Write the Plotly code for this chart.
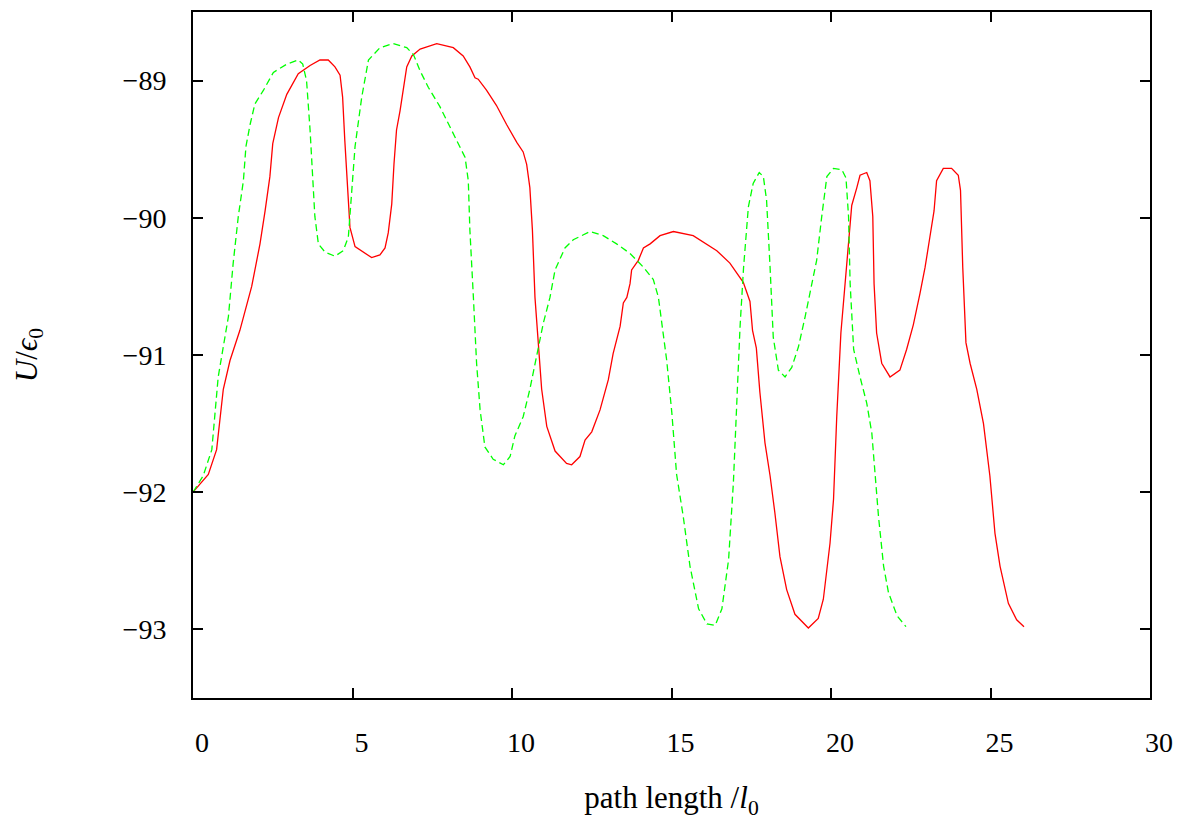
import plotly.graph_objects as go

# red curve (solid)
red_x = [0.00, 0.48, 0.74, 0.95, 1.16, 1.47, 1.84, 2.10, 2.26, 2.41, 2.50, 2.68, 2.94, 3.30, 3.67, 3.98,
         4.24, 4.45, 4.61, 4.69, 4.76, 4.84, 4.92, 5.08, 5.60, 5.86, 6.02, 6.12, 6.23, 6.30, 6.38, 6.49,
         6.59, 6.70, 6.86, 7.12, 7.64, 8.16, 8.47, 8.68, 8.84, 8.94, 9.20, 9.51, 9.83, 10.15, 10.35,
         10.46, 10.56, 10.64, 10.72, 10.83, 10.93, 11.09, 11.35, 11.71, 11.87, 12.13, 12.29, 12.50,
         12.76, 13.02, 13.17, 13.39, 13.49, 13.60, 13.70, 13.75, 13.96, 14.12, 14.33, 14.64, 15.06,
         15.68, 16.00, 16.42, 16.83, 17.25, 17.46, 17.54, 17.66, 17.77, 17.93, 18.09, 18.24, 18.40,
         18.61, 18.87, 19.29, 19.60, 19.76, 19.97, 20.08, 20.18, 20.31, 20.44, 20.55, 20.65, 20.81,
         20.91, 21.12, 21.22, 21.31, 21.35, 21.43, 21.59, 21.85, 22.16, 22.37, 22.58, 22.79, 22.95,
         23.10, 23.23, 23.31, 23.52, 23.78, 23.99, 24.06, 24.13, 24.23, 24.36, 24.57, 24.78, 24.98,
         25.14, 25.30, 25.56, 25.82, 26.05]
red_y = [-92.00, -91.87, -91.69, -91.25, -91.04, -90.82, -90.50, -90.19, -89.95, -89.70, -89.46, -89.27,
         -89.10, -88.95, -88.89, -88.85, -88.85, -88.90, -88.96, -89.12, -89.44, -89.80, -90.07, -90.21,
         -90.29, -90.27, -90.22, -90.11, -89.90, -89.61, -89.36, -89.22, -89.05, -88.90, -88.82, -88.77,
         -88.73, -88.76, -88.82, -88.90, -88.98, -88.99, -89.07, -89.18, -89.32, -89.45, -89.52, -89.61,
         -89.78, -90.09, -90.58, -90.94, -91.25, -91.52, -91.70, -91.79, -91.80, -91.74, -91.62, -91.56,
         -91.40, -91.18, -90.99, -90.79, -90.62, -90.58, -90.48, -90.38, -90.31, -90.22, -90.19, -90.13,
         -90.10, -90.13, -90.18, -90.24, -90.33, -90.47, -90.61, -90.82, -90.95, -91.27, -91.64, -91.88,
         -92.15, -92.47, -92.71, -92.89, -92.99, -92.92, -92.78, -92.37, -92.05, -91.45, -90.84, -90.48,
         -90.14, -89.91, -89.78, -89.69, -89.67, -89.73, -89.99, -90.48, -90.84, -91.06, -91.16, -91.11,
         -90.96, -90.78, -90.55, -90.36, -90.14, -89.95, -89.73, -89.64, -89.64, -89.69, -89.80, -90.36,
         -90.91, -91.06, -91.25, -91.50, -91.88, -92.30, -92.54, -92.81, -92.93, -92.98]

# green curve (dashed)
green_x = [0.00, 0.32, 0.59, 0.69, 0.79, 0.95, 1.11, 1.26, 1.42, 1.58, 1.66, 1.79, 1.94, 2.21, 2.52, 2.94,
           3.30, 3.44, 3.56, 3.67, 3.75, 3.82, 3.93, 4.14, 4.45, 4.71, 4.87, 4.97, 5.08, 5.29, 5.50, 5.86,
           6.28, 6.70, 6.91, 7.12, 7.38, 7.74, 8.06, 8.37, 8.53, 8.63, 8.68, 8.79, 8.89, 9.00, 9.15, 9.41,
           9.73, 9.94, 10.09, 10.35, 10.56, 10.77, 10.98, 11.19, 11.35, 11.66, 11.92, 12.45, 12.86, 13.28,
           13.70, 14.12, 14.43, 14.59, 14.69, 14.85, 15.01, 15.16, 15.37, 15.58, 15.85, 16.11, 16.37,
           16.58, 16.79, 16.94, 17.05, 17.15, 17.26, 17.37, 17.41, 17.56, 17.75, 17.88, 17.98, 18.09,
           18.19, 18.35, 18.56, 18.77, 18.98, 19.19, 19.34, 19.55, 19.71, 19.87, 20.08, 20.34, 20.47,
           20.55, 20.60, 20.71, 20.91, 21.12, 21.28, 21.38, 21.49, 21.65, 21.80, 22.07, 22.35]
green_y = [-92.00, -91.88, -91.69, -91.42, -91.16, -90.94, -90.72, -90.33, -89.99, -89.73, -89.48, -89.32,
           -89.17, -89.07, -88.94, -88.88, -88.85, -88.88, -89.00, -89.36, -89.73, -89.99, -90.19, -90.25,
           -90.28, -90.24, -90.14, -89.85, -89.48, -89.12, -88.85, -88.76, -88.73, -88.76, -88.81, -88.93,
           -89.05, -89.19, -89.34, -89.48, -89.56, -89.73, -90.09, -90.58, -91.06, -91.40, -91.67, -91.76,
           -91.80, -91.74, -91.59, -91.45, -91.25, -91.01, -90.77, -90.58, -90.38, -90.22, -90.16, -90.10,
           -90.13, -90.19, -90.26, -90.36, -90.45, -90.58, -90.77, -91.04, -91.42, -91.87, -92.18, -92.54,
           -92.85, -92.96, -92.97, -92.85, -92.49, -91.93, -91.33, -90.79, -90.36, -90.02, -89.92, -89.75,
           -89.67, -89.70, -89.87, -90.36, -90.87, -91.11, -91.16, -91.09, -90.94, -90.72, -90.55, -90.31,
           -89.99, -89.70, -89.64, -89.65, -89.71, -89.99, -90.48, -90.96, -91.16, -91.35, -91.57, -91.88,
           -92.18, -92.54, -92.73, -92.90, -92.98]

x_ticks = [0, 5, 10, 15, 20, 25, 30]
y_ticks = [-93, -92, -91, -90, -89]

FONT = "Liberation Serif"

fig = go.Figure()
fig.add_trace(go.Scatter(x=red_x, y=red_y, mode="lines",
                         line=dict(color="#ff0000", width=1.3), showlegend=False))
fig.add_trace(go.Scatter(x=green_x, y=green_y, mode="lines",
                         line=dict(color="#00ff00", width=1.3, dash="7px,4px"), showlegend=False))

axis_common = dict(showgrid=False, zeroline=False, showline=True, linecolor="black", linewidth=2,
                   ticks="inside", ticklen=10, tickwidth=1.5, tickcolor="black", mirror="ticks",
                   tickfont=dict(family=FONT, size=28, color="black"))

fig.update_xaxes(range=[0, 30], tickvals=x_ticks, ticklabelshift=9, ticklabelstandoff=18,
                 title=dict(text="path length /<i>l</i><sub>0</sub>", standoff=30,
                            font=dict(family=FONT, size=31, color="black")),
                 **axis_common)
fig.update_yaxes(range=[-93.5, -88.5], tickvals=y_ticks, ticklabelstandoff=19,
                 title=dict(text="<i>U</i>/<i>ϵ</i><sub>0</sub>", standoff=76,
                            font=dict(family=FONT, size=31, color="black")),
                 **axis_common)

fig.update_layout(width=1174, height=816, margin=dict(l=185, r=32, t=4, b=126, autoexpand=False),
                  paper_bgcolor="white", plot_bgcolor="white")

fig.write_html("out.html")
